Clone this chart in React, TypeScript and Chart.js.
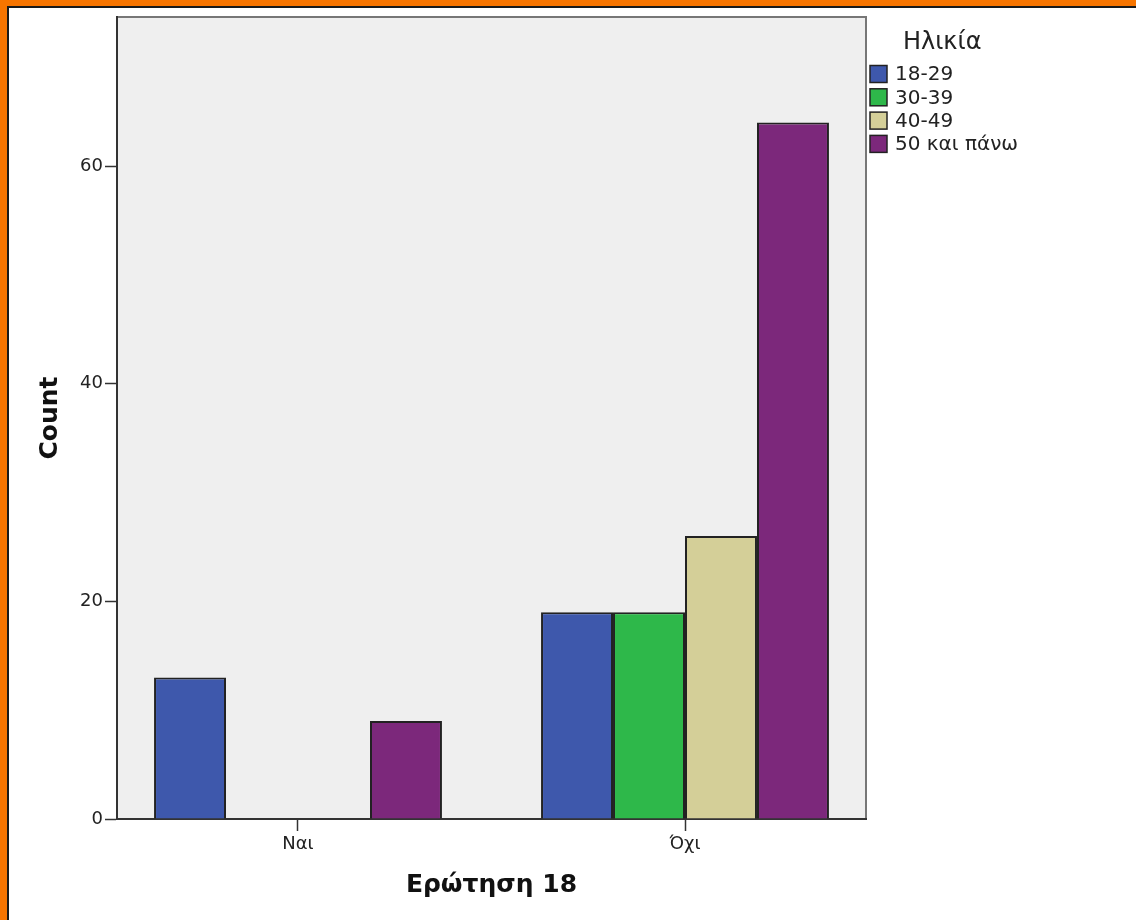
import React, { useEffect, useRef } from "react";
import { Chart, registerables } from "chart.js";

Chart.register(...registerables);

const categories = ["Ναι", "Όχι"];
const seriesNames = ["18-29", "30-39", "40-49", "50 και πάνω"];
const age18to29 = [13, 19];
const age30to39 = [0, 19];
const age40to49 = [0, 26];
const age50plus = [9, 64];
const seriesColors = ["#3e58ac", "#2eb84a", "#d4cf98", "#7c287b"];
const yTicks = [0, 20, 40, 60];
const yMax = 73.7;
const legendTitle = "Ηλικία";
const xTitle = "Ερώτηση 18";
const yTitle = "Count";

const FONT = "'DejaVu Sans', sans-serif";

const framePlugin = {
  id: "frame",
  beforeDraw(chart: any) {
    const { ctx, chartArea: a } = chart;
    ctx.save();
    ctx.fillStyle = "#efefef";
    ctx.fillRect(a.left, a.top, a.right - a.left, a.bottom - a.top);
    ctx.strokeStyle = "#777";
    ctx.lineWidth = 2;
    ctx.beginPath();
    ctx.moveTo(a.left, a.top);
    ctx.lineTo(a.right, a.top);
    ctx.lineTo(a.right, a.bottom);
    ctx.stroke();
    ctx.restore();
  },
};

const legendPlugin = {
  id: "customLegend",
  afterDraw(chart: any) {
    const { ctx, chartArea: a } = chart;
    ctx.save();
    const x0 = a.right + 4;
    ctx.fillStyle = "#222";
    ctx.font = `24px ${FONT}`;
    ctx.textBaseline = "middle";
    ctx.textAlign = "left";
    ctx.fillText(legendTitle, x0 + 33, 43);
    chart.data.datasets.forEach((ds: any, i: number) => {
      const cy = 74 + i * 23.3;
      ctx.fillStyle = ds.backgroundColor;
      ctx.fillRect(x0, cy - 8.5, 17, 17);
      ctx.strokeStyle = "#222";
      ctx.lineWidth = 1.5;
      ctx.strokeRect(x0, cy - 8.5, 17, 17);
      ctx.fillStyle = "#222";
      ctx.font = `20px ${FONT}`;
      ctx.fillText(ds.label, x0 + 25, cy + 1);
    });
    ctx.restore();
  },
};

export default function App() {
  const ref = useRef<HTMLCanvasElement>(null);
  useEffect(() => {
    const values = [age18to29, age30to39, age40to49, age50plus];
    const chart = new Chart(ref.current as HTMLCanvasElement, {
      type: "bar",
      data: {
        labels: categories,
        datasets: seriesNames.map((name, i) => ({
          label: name,
          data: values[i],
          backgroundColor: seriesColors[i],
          borderColor: "#222",
          borderWidth: 2,
          borderSkipped: "start",
          categoryPercentage: 0.744,
          barPercentage: 1,
        })),
      },
      options: {
        animation: false,
        responsive: false,
        devicePixelRatio: 1,
        layout: { padding: { left: 0, top: 17, right: 270, bottom: 0 } },
        plugins: {
          legend: { display: false },
          tooltip: { enabled: false },
        },
        scales: {
          x: {
            offset: true,
            grid: {
              offset: false,
              drawOnChartArea: false,
              drawTicks: true,
              tickLength: 12,
              tickColor: "#333",
              tickWidth: 1.5,
            },
            border: { display: true, color: "#333", width: 2 },
            ticks: { color: "#222", font: { family: FONT, size: 18 }, padding: 3 },
            title: {
              display: true,
              text: xTitle,
              color: "#111",
              font: { family: FONT, size: 25, weight: "bold" },
              padding: { top: 0, bottom: 20 },
            },
            afterFit: (s: any) => {
              s.height = 101;
            },
            afterUpdate: (s: any) => {
              // SPSS leaves slightly less outer padding around the two category groups
              s._startValue = -0.4677;
              s._valueRange = 1.9354;
            },
          },
          y: {
            min: 0,
            max: yMax,
            grid: {
              drawOnChartArea: false,
              drawTicks: true,
              tickLength: 12,
              tickColor: "#333",
              tickWidth: 1.5,
            },
            border: { display: true, color: "#333", width: 2 },
            ticks: {
              stepSize: 20,
              color: "#222",
              font: { family: FONT, size: 18 },
              padding: 2,
            },
            afterBuildTicks: (s: any) => {
              s.ticks = yTicks.map((v) => ({ value: v }));
            },
            title: {
              display: true,
              text: yTitle,
              color: "#111",
              font: { family: FONT, size: 25, weight: "bold" },
              padding: { top: 35, bottom: 0 },
            },
            afterFit: (s: any) => {
              s.width = 117;
            },
          },
        },
      },
      plugins: [framePlugin, legendPlugin],
    } as any);
    return () => chart.destroy();
  }, []);

  return (
    <div style={{ position: "fixed", left: 0, top: 0, width: 1136, height: 920, background: "#f77500" }}>
      <div
        style={{
          position: "absolute",
          left: 7,
          top: 6,
          right: 0,
          bottom: 0,
          background: "#fff",
          borderLeft: "2px solid #1a1a1a",
          borderTop: "2px solid #1a1a1a",
        }}
      />
      <canvas
        ref={ref}
        width={1136}
        height={920}
        style={{ position: "absolute", left: 0, top: 0, width: 1136, height: 920 }}
      />
    </div>
  );
}
